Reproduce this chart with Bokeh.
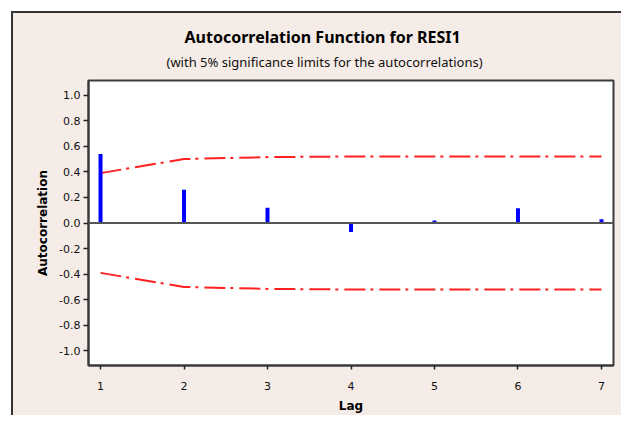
from bokeh.plotting import figure
from bokeh.models import Title, Span, FixedTicker, NumeralTickFormatter, Range1d
from bokeh.embed import file_html
from bokeh.resources import INLINE

# data
lags = [1, 2, 3, 4, 5, 6, 7]
acf = [0.54, 0.26, 0.12, -0.07, 0.02, 0.115, 0.03]
upper_limit = [0.39, 0.50, 0.515, 0.52, 0.52, 0.52, 0.52]
lower_limit = [-0.39, -0.50, -0.515, -0.52, -0.52, -0.52, -0.52]
y_ticks = [-1.0, -0.8, -0.6, -0.4, -0.2, 0.0, 0.2, 0.4, 0.6, 0.8, 1.0]
x_ticks = [1, 2, 3, 4, 5, 6, 7]

BG = "#f6ece7"
FRAME = "#3a3a3a"

p = figure(width=621, height=415, output_backend="svg", toolbar_location=None,
           x_range=Range1d(0.856, 7.144), y_range=Range1d(-1.114, 1.114),
           min_border_left=88, min_border_right=8, min_border_top=80, min_border_bottom=42)
# panel background with outer border line drawn behind a transparent canvas
p.styles = {"background": ("linear-gradient(#333333, #333333) 11px 11px / 2px 100% no-repeat, "
                           "linear-gradient(#333333, #333333) 11px 11px / 100% 2px no-repeat, "
                           f"linear-gradient({BG}, {BG}) 11px 11px / 100% 100% no-repeat, "
                           "white")}
p.border_fill_alpha = 0
p.background_fill_color = "white"
p.outline_line_color = FRAME
p.outline_line_width = 2
p.xgrid.visible = False
p.ygrid.visible = False

p.add_layout(Title(text="(with 5% significance limits for the autocorrelations)", align="left",
                   text_font="Noto Sans", text_font_size="13px", text_font_style="normal",
                   text_color="#111111", offset=78, standoff=20), "above")
p.add_layout(Title(text="Autocorrelation Function for RESI1", align="left",
                   text_font="Noto Sans", text_font_size="16px", text_font_style="bold",
                   text_color="#000000", offset=96, standoff=-14), "above")

# zero line
p.add_layout(Span(location=0, dimension="width", line_color="#555555", line_width=2))

# significance limits
p.line(lags, upper_limit, line_color="#ff2020", line_width=2, line_dash="21 5 3 6")
p.line(lags, lower_limit, line_color="#ff2020", line_width=2, line_dash="21 5 3 6")

# bars
p.segment(x0=lags, y0=[0] * len(lags), x1=lags, y1=acf, line_color="#0000ff", line_width=4)

for ax in (p.xaxis[0], p.yaxis[0]):
    ax.axis_line_color = FRAME
    ax.axis_line_width = 2
    ax.major_tick_line_color = "#222222"
    ax.major_tick_line_width = 1.5
    ax.major_tick_in = 0
    ax.major_tick_out = 5
    ax.minor_tick_line_color = None
    ax.major_label_text_font = "DejaVu Sans"
    ax.major_label_text_font_size = "11px"
    ax.major_label_text_color = "#111111"
    ax.axis_label_text_font = "DejaVu Sans"
    ax.axis_label_text_font_size = "12px"
    ax.axis_label_text_font_style = "bold"
    ax.axis_label_text_color = "#000000"

p.yaxis.ticker = FixedTicker(ticks=y_ticks)
p.yaxis.formatter = NumeralTickFormatter(format="0.0")
p.yaxis.axis_label = "Autocorrelation"
p.yaxis.axis_label_standoff = 6
p.yaxis.major_label_standoff = 3

p.xaxis.ticker = FixedTicker(ticks=x_ticks)
p.xaxis.axis_label = "Lag"
p.xaxis.major_tick_out = 4
p.xaxis.major_label_standoff = 12
p.xaxis.axis_label_standoff = 6

open("out.html", "w").write(file_html(p, INLINE))
